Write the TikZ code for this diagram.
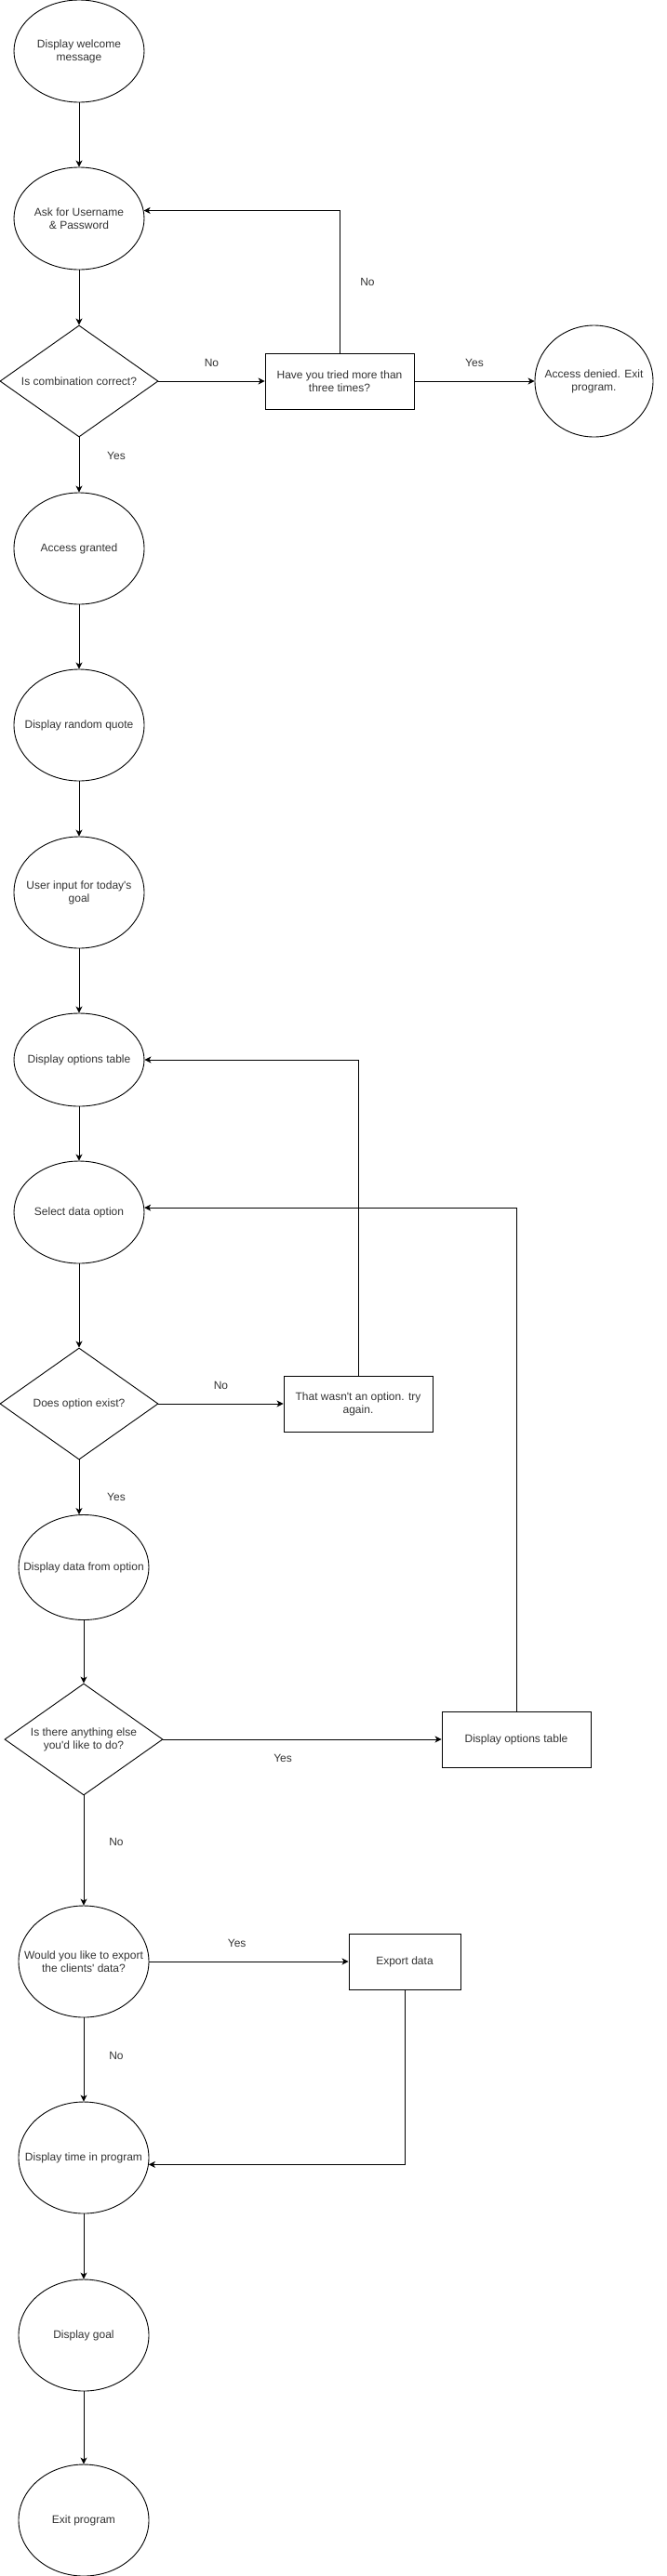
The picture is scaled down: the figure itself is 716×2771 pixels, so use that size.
\documentclass[tikz,border=0pt]{standalone}
\usepackage{fontspec}
\setmainfont{Liberation Sans}
\usetikzlibrary{shapes.geometric, arrows}
\usetikzlibrary{arrows.meta}
\tikzstyle{oval} = [ellipse, text centered, draw=black, minimum width=140pt, minimum height=120pt, inner xsep=-20pt, inner ysep=0pt, align=center]
\tikzstyle{decision} = [diamond, aspect=1.4, text centered, draw=black, minimum width=170pt, minimum height=120pt, inner sep=0pt, align=center]
\tikzstyle{box} = [rectangle, text centered, draw=black, minimum width=160pt, minimum height=60pt, align=center]
\tikzstyle{lbl} = [inner sep=0pt]
\tikzstyle{arrow} = [->,>={Stealth[length=7pt,width=7pt,inset=2pt]}]
\newcommand{\q}{\textquotesingle}

\begin{document}
\begin{tikzpicture}[x=1pt, y=1pt, node distance=180pt, line width=0.9pt, text=black!80, font=\fontsize{12pt}{14pt}\selectfont]

\useasboundingbox (0,0) rectangle (716,-2771);

\node (welcome) [oval, minimum height=110pt] at (85,-55) {Display welcome\\message};
\node (ask) [oval, minimum height=110pt, below of=welcome] {Ask for Username\\\& Password};
\node (chk) [decision, below of=ask, yshift=5pt] {Is combination correct?};
\node (tries) [box, right of=chk, xshift=100pt] {Have you tried more than\\three times?};
\node (denied) [oval, minimum width=127pt, inner xsep=-30pt, right of=tries, xshift=93.5pt] {Access denied. Exit\\program.};

\node (granted) [oval, below of=chk] {Access granted};
\node (quote) [oval, below of=granted, yshift=-10pt] {Display random quote};
\node (goalin) [oval, below of=quote] {User input for today\q s\\goal};
\node (opts) [oval, minimum height=100pt, below of=goalin] {Display options table};
\node (sel) [oval, minimum height=110pt, below of=opts, yshift=16pt] {Select data option};
\node (exist) [decision, below of=sel, yshift=-26pt] {Does option exist?};
\node (retry) [box, right of=exist, xshift=120pt] {That wasn\q t an option. try\\again.};

\node (dataopt) [oval, minimum height=113pt, below of=exist, yshift=4pt, xshift=5pt] {Display data from option};
\node (more) [decision, below of=dataopt, yshift=-5pt] {Is there anything else\\you\q d like to do?};
\node (again) [box, right of=more, xshift=285pt] {Display options table};
\node (export) [oval, below of=more, yshift=-59pt] {Would you like to export\\the clients\q{} data?};
\node (exportbox) [box, minimum width=120pt, right of=export, xshift=165pt] {Export data};
\node (timein) [oval, below of=export, yshift=-31pt] {Display time in program};
\node (showgoal) [oval, below of=timein, yshift=-11pt] {Display goal};
\node (exitp) [oval, below of=showgoal, yshift=-19pt] {Exit program};

\draw [arrow] (welcome) -- (ask);
\draw [arrow] (ask) -- (chk);
\draw [arrow] (chk) -- node[lbl, yshift=20pt] {No} (tries);
\draw [arrow] (tries.north) |- node[lbl, pos=0.25, xshift=30pt] {No} (ask.7);
\draw [arrow] (tries) -- node[lbl, yshift=20pt] {Yes} (denied);
\draw [arrow] (chk) -- node[lbl, pos=0.33, xshift=40pt] {Yes} (granted);

\draw [arrow] (granted) -- (quote);
\draw [arrow] (quote) -- (goalin);
\draw [arrow] (goalin) -- (opts);
\draw [arrow] (opts) -- (sel);
\draw [arrow] (sel) -- (exist);
\draw [arrow] (exist) -- node[lbl, yshift=20pt] {No} (retry);
\draw [arrow] (retry.north) |- (opts.east);
\draw [arrow] (exist.south) -- node[lbl, pos=0.68, xshift=40pt] {Yes} (exist.south |- dataopt.north);

\draw [arrow] (dataopt) -- (more);
\draw [arrow] (more) -- node[lbl, pos=0.43, yshift=-20pt] {Yes} (again);
\draw [arrow] (again.north) |- (sel.4);
\draw [arrow] (more) -- node[lbl, pos=0.42, xshift=35pt] {No} (export);
\draw [arrow] (export) -- node[lbl, pos=0.44, yshift=20pt] {Yes} (exportbox);
\draw [arrow] (export) -- node[lbl, pos=0.46, xshift=35pt] {No} (timein);
\draw [arrow] (exportbox.south) |- (timein.-6);
\draw [arrow] (timein) -- (showgoal);
\draw [arrow] (showgoal) -- (exitp);

\end{tikzpicture}
\end{document}
